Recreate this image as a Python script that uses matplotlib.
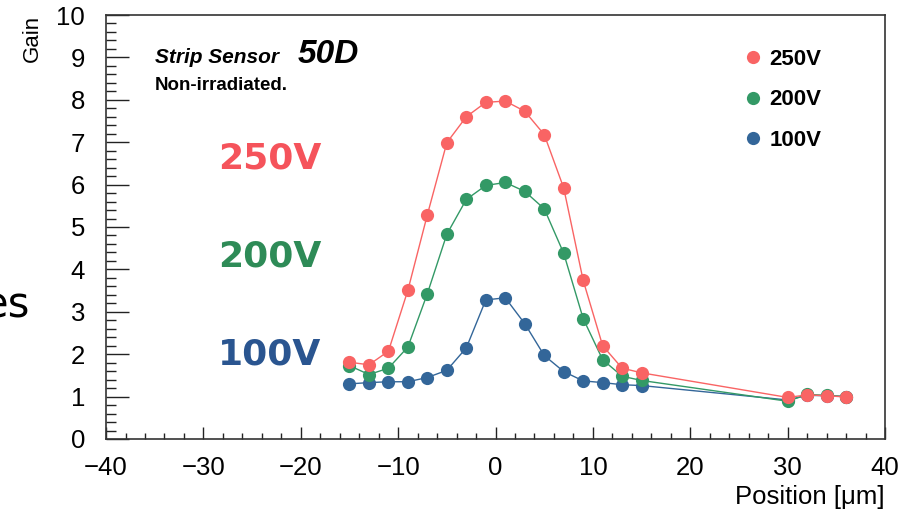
import matplotlib
matplotlib.use("Agg")
import matplotlib.pyplot as plt
from matplotlib.lines import Line2D
from matplotlib.ticker import MultipleLocator

# scan positions [um] and measured gain per bias voltage
positions = [-15, -13, -11, -9, -7, -5, -3, -1, 1, 3, 5, 7, 9, 11, 13, 15, 30, 32, 34, 36]
gain_250v = [1.81, 1.75, 2.07, 3.51, 5.29, 6.99, 7.60, 7.94, 7.97, 7.73,
             7.18, 5.92, 3.74, 2.20, 1.67, 1.56, 0.98, 1.04, 1.02, 0.99]
gain_200v = [1.73, 1.52, 1.67, 2.17, 3.43, 4.83, 5.65, 5.98, 6.05, 5.84,
             5.43, 4.38, 2.84, 1.87, 1.48, 1.38, 0.89, 1.05, 1.03, 1.00]
gain_100v = [1.30, 1.33, 1.35, 1.35, 1.45, 1.62, 2.15, 3.28, 3.33, 2.72,
             1.97, 1.59, 1.37, 1.33, 1.28, 1.26, 0.92, 1.03, 1.02, 1.00]

labels = ["250V", "200V", "100V"]
marker_colors = ["#f96464", "#339966", "#336699"]
text_colors = ["#f5535b", "#2e8b57", "#2a5590"]
label_y = [6.37, 4.08, 1.75]

plt.rcParams["font.family"] = ["Liberation Sans", "DejaVu Sans"]

fig = plt.figure(figsize=(9.07, 5.12), dpi=100)
ax = fig.add_axes([0.1169, 0.1426, 0.8589, 0.8281])

series = [gain_250v, gain_200v, gain_100v]
for i in (2, 1, 0):
    ax.plot(positions, series[i], color=marker_colors[i], lw=1.0,
            marker="o", ms=9.5, mew=0, zorder=3 - i)

ax.set_xlim(-40, 40)
ax.set_ylim(0, 10)
ax.xaxis.set_major_locator(MultipleLocator(10))
ax.xaxis.set_minor_locator(MultipleLocator(2))
ax.yaxis.set_major_locator(MultipleLocator(1))
ax.yaxis.set_minor_locator(MultipleLocator(0.2))
ax.tick_params(axis="both", which="both", direction="in", top=False, right=False,
               width=1.0, color="#222222", labelsize=18.5)
ax.tick_params(axis="x", which="major", length=9, pad=12)
ax.tick_params(axis="x", which="minor", length=4.5)
ax.tick_params(axis="y", which="major", length=16.5, pad=15)
ax.tick_params(axis="y", which="minor", length=7)
for sp in ax.spines.values():
    sp.set_linewidth(1.2)
    sp.set_color("#333333")
ax.xaxis.set_major_formatter(plt.FuncFormatter(lambda v, p: f"{v:.0f}".replace("-", "\u2212")))

ax.text(-0.095, 1.0, "Gain", rotation=90, ha="center", va="top",
        fontsize=16, transform=ax.transAxes)
fig.text(885 / 907, 1 - 485 / 512, "Position [\u03bcm]", ha="right", va="top", fontsize=18.5)

# sensor description
ax.text(-35.0, 8.86, "Strip Sensor", fontsize=15, fontweight="bold", style="italic")
ax.text(-20.3, 8.86, "50D", fontsize=24, fontweight="bold", style="italic")
ax.text(-35.0, 8.22, "Non-irradiated.", fontsize=13.5, fontweight="bold")

# big voltage labels
for lab, c, y in zip(labels, text_colors, label_y):
    ax.text(-28.5, y, lab, color=c, fontsize=26, fontweight="bold",
            family="DejaVu Sans", va="baseline")

handles = [Line2D([], [], ls="none", marker="o", ms=9.5, mew=0, color=c) for c in marker_colors]
ax.legend(handles, labels, loc="upper left", bbox_to_anchor=(0.7906, 0.968),
          frameon=False, handlelength=1.0, handletextpad=0.25, labelspacing=0.89,
          prop={"weight": "bold", "size": 16})

fig.text(30 / 907, 1 - 318 / 512, "es", ha="right", va="baseline",
         fontsize=30, family="DejaVu Sans")

fig.savefig("out.png", dpi=100)
